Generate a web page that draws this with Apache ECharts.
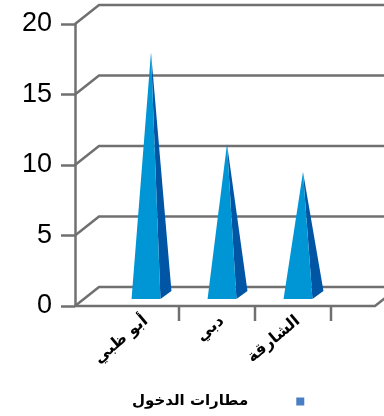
<!DOCTYPE html>
<html>
<head>
<meta charset="utf-8">
<script src="https://cdn.jsdelivr.net/npm/echarts@6/dist/echarts.min.js"></script>
<style>
  html, body { margin: 0; padding: 0; background: #fff; }
  #chart { width: 384px; height: 416px; }
</style>
</head>
<body>
<div id="chart"></div>
<script>
// Entry airports by emirate
const categories = ['أبو ظبي', 'دبي', 'الشارقة'];
const values = [17.5, 11, 9];
const yTicks = [0, 5, 10, 15, 20];
const seriesName = 'مطارات الدخول';

const LINE = '#707070';
const LINE_W = 2.5;
const AXIS_OFFSET = 33;      // value axis sits left of the category area
const DEPTH = [24, -19];     // back-wall offset of the 3D box
const FLOOR_W = 300;

const chart = echarts.init(document.getElementById('chart'), null, { renderer: 'canvas' });

function wallItem(params, api) {
  const v = api.value(1);
  const p = api.coord([0, v]);
  const x0 = params.coordSys.x - AXIS_OFFSET;
  const y = p[1];
  const children = [{
    type: 'polyline',
    shape: { points: [[x0, y], [x0 + DEPTH[0], y + DEPTH[1]], [420, y + DEPTH[1]]] },
    style: { stroke: LINE, lineWidth: LINE_W, fill: null }
  }];
  if (v === 0) {
    children.push({
      type: 'polyline',
      shape: { points: [[x0, y], [x0 + FLOOR_W, y], [x0 + FLOOR_W + DEPTH[0], y + DEPTH[1]]] },
      style: { stroke: LINE, lineWidth: LINE_W, fill: null }
    });
  }
  return { type: 'group', children };
}

function tickItem(params, api) {
  const p = api.coord([api.value(0), 0]);
  const w = api.size([1, 0])[0];
  const x = p[0] + w / 2 - 5;
  return {
    type: 'line',
    shape: { x1: x, y1: p[1], x2: x, y2: p[1] + 15 },
    style: { stroke: LINE, lineWidth: LINE_W }
  };
}

function pyramidItem(params, api) {
  const base = api.coord([api.value(0), 0]);
  const top = api.coord([api.value(0), api.value(1)]);
  const w = api.size([1, 0])[0];
  const half = w * 0.19;
  const sideDx = w * 0.145;
  const sideDy = 8;
  const lift = 7;
  const cx = base[0];
  const by = base[1] - lift;
  const tip = [cx + 5, top[1] - lift];
  return {
    type: 'group',
    children: [
      {
        type: 'polygon',
        shape: { points: [[cx + half, by], [cx + half + sideDx, by - sideDy], tip] },
        style: { fill: '#0055a5' }
      },
      {
        type: 'polygon',
        shape: { points: [[cx - half, by], [cx + half, by], tip] },
        style: { fill: '#0095d4' }
      }
    ]
  };
}

chart.setOption({
  animation: false,
  backgroundColor: '#fff',
  grid: { left: 108, top: 24, width: 228, bottom: 110 },
  xAxis: {
    type: 'category',
    data: categories,
    axisLine: { show: false },
    axisTick: { show: false },
    axisLabel: {
      rotate: 40,
      margin: 13,
      color: '#000',
      fontFamily: 'DejaVu Sans',
      fontWeight: 'bold',
      fontSize: 16
    },
    splitLine: { show: false }
  },
  yAxis: {
    type: 'value',
    min: 0,
    max: 20,
    interval: 5,
    offset: AXIS_OFFSET,
    axisLine: { show: true, lineStyle: { color: LINE, width: LINE_W } },
    axisTick: { show: true, length: 14, lineStyle: { color: LINE, width: LINE_W } },
    axisLabel: {
      margin: 23,
      color: '#000',
      fontFamily: 'Liberation Sans',
      fontSize: 27
    },
    splitLine: { show: false }
  },
  legend: {
    data: [seriesName],
    left: 127,
    top: 389,
    align: 'right',
    icon: 'rect',
    itemWidth: 8,
    itemHeight: 8,
    textStyle: {
      color: '#000',
      fontFamily: 'DejaVu Sans',
      fontWeight: 'bold',
      fontSize: 15,
      padding: [0, 43, 0, 0]
    }
  },
  series: [
    {
      name: 'wall',
      type: 'custom',
      silent: true,
      renderItem: wallItem,
      data: yTicks.map(v => [0, v]),
      encode: { x: 0, y: 1 },
      z: 1
    },
    {
      name: 'ticks',
      type: 'custom',
      silent: true,
      renderItem: tickItem,
      data: categories.map((c, i) => [i, 0]),
      encode: { x: 0, y: 1 },
      z: 1
    },
    {
      name: seriesName,
      type: 'custom',
      renderItem: pyramidItem,
      itemStyle: { color: '#4a7ec4' },
      data: values.map((v, i) => [i, v]),
      encode: { x: 0, y: 1 },
      z: 2
    }
  ]
});
</script>
</body>
</html>
